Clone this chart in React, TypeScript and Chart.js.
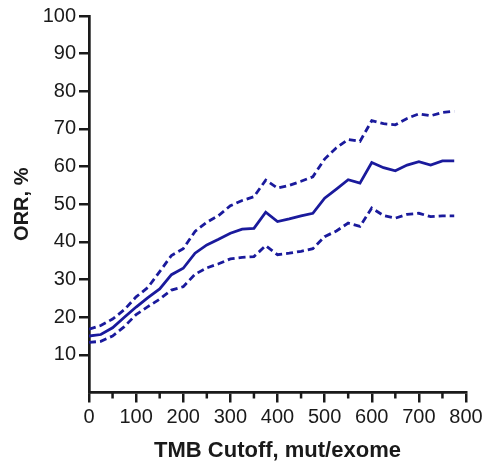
import React, { useEffect, useRef } from "react";
import { Chart, registerables } from "chart.js";

Chart.register(...registerables);

const cutoffs = [0, 25, 50, 75, 100, 125, 150, 175, 200, 225, 250, 275, 300, 325, 350, 375, 400, 425, 450, 475, 500, 525, 550, 575, 600, 625, 650, 675, 700, 725, 750, 775];
const orr = [15.0, 15.4, 17.2, 20.0, 22.7, 25.2, 27.5, 31.3, 33.0, 37.0, 39.2, 40.7, 42.3, 43.4, 43.6, 47.9, 45.4, 46.1, 46.9, 47.6, 51.6, 54.0, 56.5, 55.6, 61.1, 59.7, 58.9, 60.4, 61.3, 60.4, 61.5, 61.5];
const upperCI = [16.8, 17.8, 19.5, 22.0, 25.4, 27.9, 32.1, 36.4, 38.2, 42.8, 45.2, 47.0, 49.6, 51.0, 52.0, 56.4, 54.3, 55.0, 56.1, 57.3, 62.0, 65.0, 67.2, 66.7, 72.2, 71.4, 71.1, 72.8, 74.0, 73.5, 74.4, 74.7];
const lowerCI = [13.3, 13.6, 15.0, 17.5, 20.7, 22.8, 24.8, 27.2, 28.1, 31.4, 33.1, 34.2, 35.5, 35.9, 36.1, 39.0, 36.6, 37.0, 37.5, 38.2, 41.4, 42.9, 45.0, 44.1, 49.0, 47.0, 46.3, 47.3, 47.6, 46.7, 46.9, 46.9];
const minorXTicks = [50, 150, 250, 350, 450, 550, 650, 750];

const LINE = "#1a1a9c";
const INK = "#1a1a1a";

const minorTickPlugin = {
  id: "minorTicks",
  afterDraw(chart: any) {
    const x = chart.scales.x;
    const ctx = chart.ctx;
    ctx.save();
    ctx.strokeStyle = INK;
    ctx.lineWidth = 2.5;
    const top = chart.chartArea.bottom;
    minorXTicks.forEach((v) => {
      const px = x.getPixelForValue(v);
      ctx.beginPath();
      ctx.moveTo(px, top);
      ctx.lineTo(px, top + 6);
      ctx.stroke();
    });
    ctx.restore();
  },
};

export default function App() {
  const ref = useRef<HTMLCanvasElement | null>(null);
  useEffect(() => {
    if (!ref.current) return;
    const mk = (data: number[], dash: number[]) => ({
      data: cutoffs.map((c, i) => ({ x: c, y: data[i] })),
      borderColor: LINE,
      backgroundColor: LINE,
      borderWidth: 2.8,
      borderDash: dash,
      pointRadius: 0,
      tension: 0,
      fill: false,
    });
    const chart = new Chart(ref.current, {
      type: "line",
      data: {
        datasets: [mk(upperCI, [7, 4]), mk(orr, []), mk(lowerCI, [7, 4])],
      },
      options: {
        animation: false,
        responsive: true,
        maintainAspectRatio: false,
        layout: { padding: { top: 16, right: 21, bottom: 0, left: 0 } },
        plugins: { legend: { display: false }, tooltip: { enabled: false } },
        scales: {
          x: {
            type: "linear",
            min: 0,
            max: 800,
            afterFit: (s: any) => {
              s.height = 73.5;
            },
            ticks: {
              stepSize: 100,
              color: INK,
              padding: 3,
              maxRotation: 0,
              font: { family: "'Liberation Sans', Arial, sans-serif", size: 20 },
            },
            grid: { drawOnChartArea: false, drawTicks: true, tickLength: 10, color: INK, lineWidth: 2.5 },
            border: { display: true, color: INK, width: 2.7 },
            title: {
              display: true,
              text: "TMB Cutoff, mut/exome",
              color: INK,
              padding: { top: 0, bottom: 2 },
              font: { family: "'Liberation Sans', Arial, sans-serif", size: 22, weight: "bold" },
            },
          },
          y: {
            type: "linear",
            min: 0,
            max: 100,
            afterFit: (s: any) => {
              s.width = 89;
            },
            ticks: {
              stepSize: 10,
              color: INK,
              padding: 3,
              callback: (v: any) => (v === 0 ? "" : String(v)),
              font: { family: "'Liberation Sans', Arial, sans-serif", size: 20 },
            },
            grid: {
              drawOnChartArea: false,
              drawTicks: true,
              tickLength: 10,
              lineWidth: 2.5,
              color: (c: any) => (c.tick && c.tick.value === 0 ? "rgba(0,0,0,0)" : INK),
            },
            border: { display: true, color: INK, width: 2.7 },
            title: {
              display: true,
              text: "ORR, %",
              color: INK,
              padding: { top: 10, bottom: 0 },
              font: { family: "'Liberation Sans', Arial, sans-serif", size: 20, weight: "bold" },
            },
          },
        },
      },
      plugins: [minorTickPlugin],
    });
    return () => chart.destroy();
  }, []);
  return (
    <div style={{ position: "absolute", left: 0, top: 0, width: 487, height: 466, background: "#fff" }}>
      <canvas ref={ref} />
    </div>
  );
}
